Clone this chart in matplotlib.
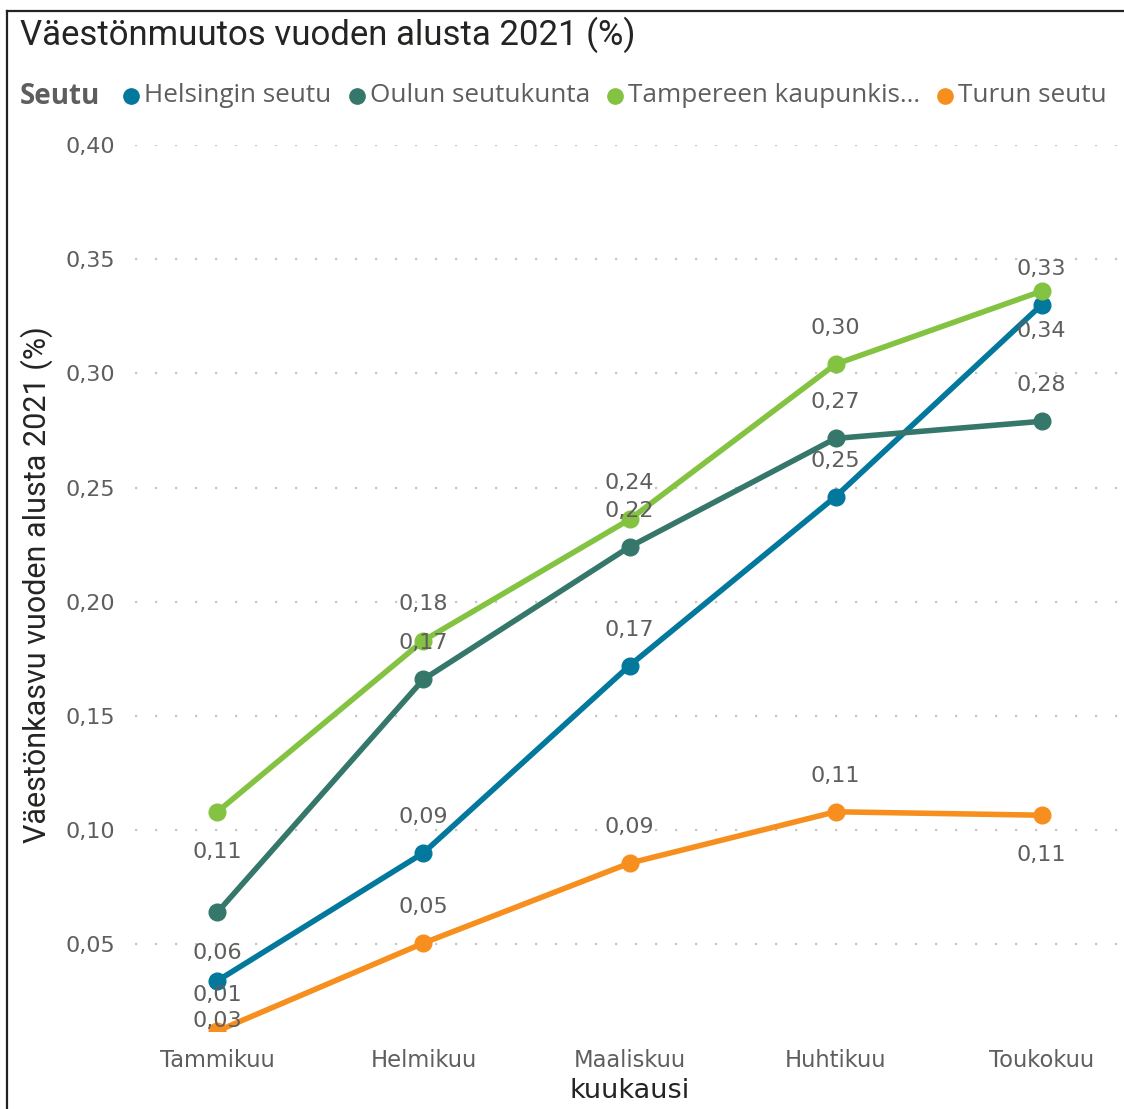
# Väestönmuutos vuoden alusta 2021 (%) - Power BI tyylinen viivakaavio
import matplotlib.pyplot as plt
from matplotlib.lines import Line2D

kuukaudet = ["Tammikuu", "Helmikuu", "Maaliskuu", "Huhtikuu", "Toukokuu"]
seudut = ["Helsingin seutu", "Oulun seutukunta", "Tampereen kaupunkis…", "Turun seutu"]

helsinki = [0.034, 0.090, 0.172, 0.246, 0.330]
oulu = [0.064, 0.166, 0.224, 0.2715, 0.279]
tampere = [0.108, 0.183, 0.236, 0.304, 0.336]
turku = [0.012, 0.0505, 0.0855, 0.108, 0.1065]

# data labelin paikka: 1 = pisteen ylapuolella, -1 = alapuolella
helsinki_lbl = [-1, 1, 1, 1, 1]
oulu_lbl = [-1, 1, 1, 1, 1]
tampere_lbl = [-1, 1, 1, 1, -1]
turku_lbl = [1, 1, 1, 1, -1]

arvot = [helsinki, oulu, tampere, turku]
paikat = [helsinki_lbl, oulu_lbl, tampere_lbl, turku_lbl]
renkler = ["#02789C", "#35776A", "#83C341", "#F78F1F"]

y_ticks = [0.05, 0.10, 0.15, 0.20, 0.25, 0.30, 0.35, 0.40]

W, H = 1124, 1109
harmaa = "#605E5C"

fig = plt.figure(figsize=(W / 100, H / 100), dpi=100)
ax = fig.add_axes([135 / W, 1 - 1031 / H, (W - 135) / W, (1031 - 145) / H])

x = list(range(len(kuukaudet)))
for vals, lbl, renk in zip(arvot, paikat, renkler):
    ax.plot(x, vals, "-o", color=renk, lw=4, ms=12, zorder=3, clip_on=True)
    for xi, v, p in zip(x, vals, lbl):
        ax.annotate(f"{v:.2f}".replace(".", ","), (xi, v),
                    xytext=(0, 26 if p > 0 else -29), textcoords="offset points",
                    ha="center", va="center", fontsize=16, color=harmaa,
                    family="DejaVu Sans", zorder=4, annotation_clip=False)

ax.set_xlim(-0.4, 4.4)
ax.set_ylim(min(min(v) for v in arvot), 0.40)
ax.set_xticks(x)
ax.set_xticklabels(kuukaudet, fontsize=16.3, color=harmaa)
ax.set_yticks(y_ticks)
ax.set_yticklabels([f"{t:.2f}".replace(".", ",") for t in y_ticks], fontsize=16, color=harmaa)
ax.tick_params(length=0, pad=14)
ax.tick_params(axis="x", pad=13)
ax.grid(axis="y", color="#C8C6C4", linestyle=(0, (1, 8)), lw=1.6)
ax.set_axisbelow(True)
for s in ax.spines.values():
    s.set_visible(False)

ax.set_xlabel("kuukausi", fontsize=19.5, color="#252423", labelpad=4)
fig.text(37 / W, 1 - 585 / H, "Väestönkasvu vuoden alusta 2021 (%)", rotation=90,
         ha="center", va="center", fontsize=22, color="#252423", family="Roboto")

fig.text(20 / W, 1 - 35 / H, "Väestönmuutos vuoden alusta 2021 (%)",
         ha="left", va="center", fontsize=25, color="#252423", family="Roboto")

# legenda kasin, pala palalta
fig.canvas.draw()
r = fig.canvas.get_renderer()
t = fig.text(20 / W, 1 - 96 / H, "Seutu", ha="left", va="center", fontsize=20,
             fontweight="bold", color=harmaa, family="Open Sans")
xp = t.get_window_extent(r).x1 + 31
for ad, renk in zip(seudut, renkler):
    fig.add_artist(Line2D([xp / W], [1 - 96 / H], marker="o", ms=11, color=renk,
                          transform=fig.transFigure))
    t = fig.text((xp + 13) / W, 1 - 96 / H, ad, ha="left", va="center", fontsize=18.8,
                 color=harmaa, family="Open Sans")
    xp = t.get_window_extent(r).x1 + 25

# kehys
fig.add_artist(Line2D([7 / W, 7 / W], [0, 1 - 11 / H], color="#222222", lw=1.6))
fig.add_artist(Line2D([7 / W, 1], [1 - 11 / H, 1 - 11 / H], color="#222222", lw=1.6))

fig.savefig("out.png", dpi=100)
